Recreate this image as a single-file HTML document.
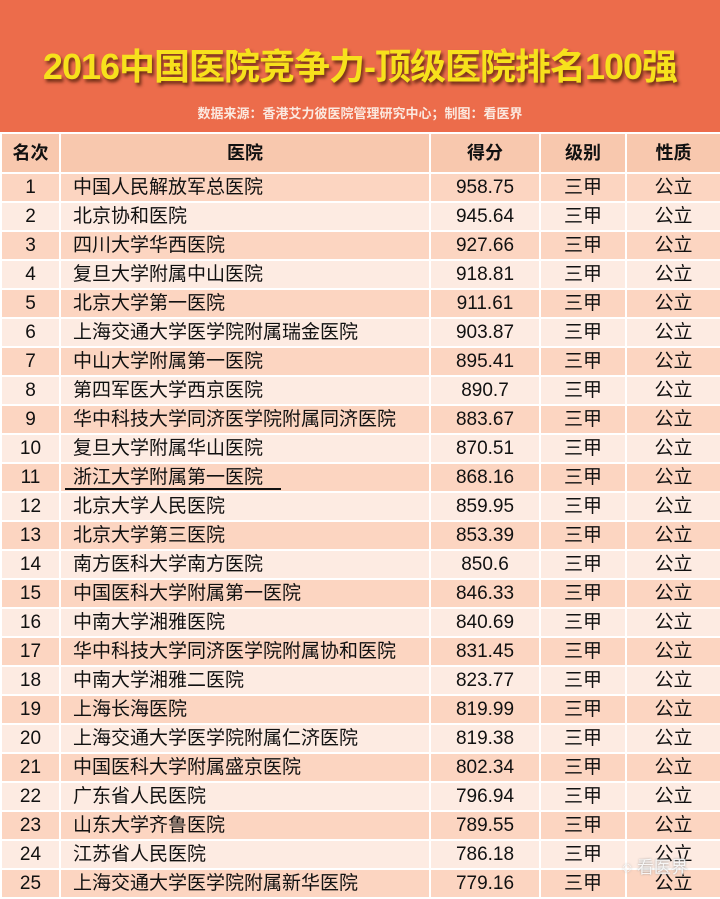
<!DOCTYPE html>
<html><head><meta charset="utf-8"><style>
body{margin:0;width:720px;height:898px;overflow:hidden;background:#fff;font-family:"Liberation Sans","Noto Sans CJK SC",sans-serif;}
.top{position:absolute;left:0;top:0;width:720px;height:132px;background:#ec6c4b;}
.title{position:absolute;left:0;width:720px;top:38px;text-align:center;font-size:36px;font-weight:bold;color:#f7e11c;letter-spacing:-1px;text-shadow:2px 3px 3px rgba(60,20,0,.7);}
.sub{position:absolute;left:0;width:720px;top:103px;text-align:center;font-size:13px;font-weight:bold;color:#fbe9e0;}
table{position:absolute;left:0;top:132px;border-collapse:collapse;width:720px;table-layout:fixed;}
td{border:2px solid #fff;height:27px;padding:0;text-align:center;font-size:19px;color:#111;line-height:27px;}
tr.h td{height:38px;background:#f8c8ae;font-weight:bold;font-size:18px;}
tr:nth-child(even) td{background:#fcd5c1;}
tr:nth-child(odd):not(.h) td{background:#fdebe2;}
td.n{text-align:left;padding-left:12px;}
</style></head><body>
<div class="top"></div>
<div class="title">2016中国医院竞争力-顶级医院排名100强</div>
<div class="sub">数据来源：香港艾力彼医院管理研究中心；制图：看医界</div>
<table>
<colgroup><col style="width:59px"><col style="width:370px"><col style="width:110px"><col style="width:86px"><col style="width:95px"></colgroup>
<tr class="h"><td>名次</td><td>医院</td><td>得分</td><td>级别</td><td>性质</td></tr>
<tr><td>1</td><td class="n">中国人民解放军总医院</td><td>958.75</td><td>三甲</td><td>公立</td></tr>
<tr><td>2</td><td class="n">北京协和医院</td><td>945.64</td><td>三甲</td><td>公立</td></tr>
<tr><td>3</td><td class="n">四川大学华西医院</td><td>927.66</td><td>三甲</td><td>公立</td></tr>
<tr><td>4</td><td class="n">复旦大学附属中山医院</td><td>918.81</td><td>三甲</td><td>公立</td></tr>
<tr><td>5</td><td class="n">北京大学第一医院</td><td>911.61</td><td>三甲</td><td>公立</td></tr>
<tr><td>6</td><td class="n">上海交通大学医学院附属瑞金医院</td><td>903.87</td><td>三甲</td><td>公立</td></tr>
<tr><td>7</td><td class="n">中山大学附属第一医院</td><td>895.41</td><td>三甲</td><td>公立</td></tr>
<tr><td>8</td><td class="n">第四军医大学西京医院</td><td>890.7</td><td>三甲</td><td>公立</td></tr>
<tr><td>9</td><td class="n">华中科技大学同济医学院附属同济医院</td><td>883.67</td><td>三甲</td><td>公立</td></tr>
<tr><td>10</td><td class="n">复旦大学附属华山医院</td><td>870.51</td><td>三甲</td><td>公立</td></tr>
<tr><td>11</td><td class="n"><span style="border-bottom:2px solid #111;padding-right:18px;margin-left:-8px;padding-left:8px">浙江大学附属第一医院</span></td><td>868.16</td><td>三甲</td><td>公立</td></tr>
<tr><td>12</td><td class="n">北京大学人民医院</td><td>859.95</td><td>三甲</td><td>公立</td></tr>
<tr><td>13</td><td class="n">北京大学第三医院</td><td>853.39</td><td>三甲</td><td>公立</td></tr>
<tr><td>14</td><td class="n">南方医科大学南方医院</td><td>850.6</td><td>三甲</td><td>公立</td></tr>
<tr><td>15</td><td class="n">中国医科大学附属第一医院</td><td>846.33</td><td>三甲</td><td>公立</td></tr>
<tr><td>16</td><td class="n">中南大学湘雅医院</td><td>840.69</td><td>三甲</td><td>公立</td></tr>
<tr><td>17</td><td class="n">华中科技大学同济医学院附属协和医院</td><td>831.45</td><td>三甲</td><td>公立</td></tr>
<tr><td>18</td><td class="n">中南大学湘雅二医院</td><td>823.77</td><td>三甲</td><td>公立</td></tr>
<tr><td>19</td><td class="n">上海长海医院</td><td>819.99</td><td>三甲</td><td>公立</td></tr>
<tr><td>20</td><td class="n">上海交通大学医学院附属仁济医院</td><td>819.38</td><td>三甲</td><td>公立</td></tr>
<tr><td>21</td><td class="n">中国医科大学附属盛京医院</td><td>802.34</td><td>三甲</td><td>公立</td></tr>
<tr><td>22</td><td class="n">广东省人民医院</td><td>796.94</td><td>三甲</td><td>公立</td></tr>
<tr><td>23</td><td class="n">山东大学齐鲁医院</td><td>789.55</td><td>三甲</td><td>公立</td></tr>
<tr><td>24</td><td class="n">江苏省人民医院</td><td>786.18</td><td>三甲</td><td>公立</td></tr>
<tr><td>25</td><td class="n">上海交通大学医学院附属新华医院</td><td>779.16</td><td>三甲</td><td>公立</td></tr>
</table>
<div style="position:absolute;left:622px;top:853px;font-size:17px;color:rgba(255,255,255,.85);text-shadow:0 0 2px #999">◌ 看医界</div>
</body></html>
